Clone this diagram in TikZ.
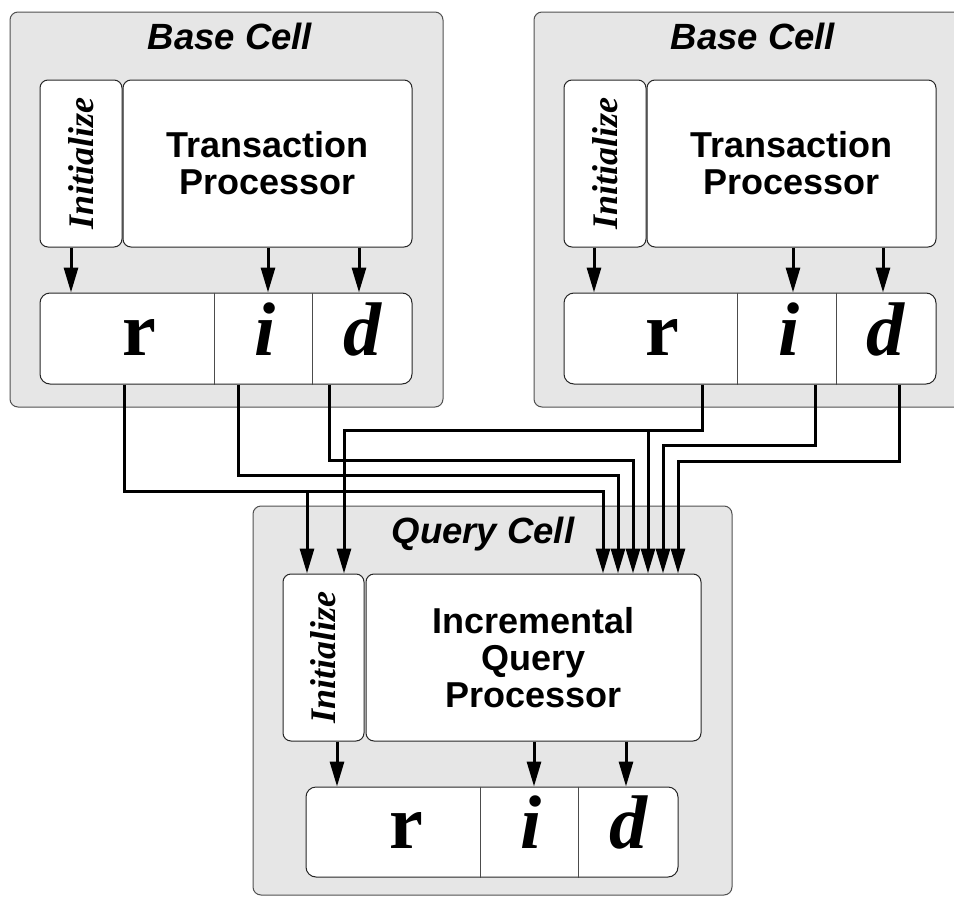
\documentclass[tikz,border=0pt]{standalone}
\usepackage{fontspec}
\newfontfamily\hv{Liberation Sans}
\newfontfamily\tm{Liberation Serif}
\usetikzlibrary{arrows.meta}
\definecolor{cellgray}{HTML}{E6E6E6}
\definecolor{edgegray}{HTML}{505050}
\tikzset{
  cellbox/.style={draw=edgegray, line width=1pt, fill=cellgray, rounded corners=8pt, inner sep=0pt},
  ibox/.style={draw=black!85, line width=1pt, fill=white, rounded corners=8pt, inner sep=0pt},
  ridbox/.style={ibox, rounded corners=10pt, minimum width=372pt},
  divider/.style={draw=black!70, line width=0.9pt},
  celltitle/.style={font=\hv\bfseries\itshape\fontsize{36.5}{36.5}\selectfont, anchor=base, inner sep=0pt},
  proctext/.style={font=\hv\bfseries\fontsize{36}{37}\selectfont, align=center},
  inittext/.style={font=\tm\bfseries\itshape\fontsize{36}{36}\selectfont, rotate=90, inner sep=0pt},
  uprletter/.style={font=\tm\bfseries\fontsize{76}{76}\selectfont, anchor=base, inner sep=0pt},
  itletter/.style={font=\tm\bfseries\itshape\fontsize{76}{76}\selectfont, anchor=base, inner sep=0pt},
  arr/.style={line width=3pt, -{Triangle[length=25pt,width=14pt]}},
}
\begin{document}
\begin{tikzpicture}[x=1pt, y=-1pt]
\useasboundingbox (0,0) rectangle (954,897);
\clip (0,0) rectangle (954,897);

% ---------- cells ----------
\node[cellbox, minimum width=433pt, minimum height=395pt] (Lcell) at (226.5,209.5) {};
\node[cellbox, minimum width=433pt, minimum height=395pt] (Rcell) at (750.5,209.5) {};
\node[cellbox, minimum width=479pt, minimum height=389pt] (Qcell) at (492.5,700.5) {};

\node[celltitle] (Ltitle) at (230,49) {Base Cell};
\node[celltitle] (Rtitle) at (753,49) {Base Cell};
\node[celltitle] (Qtitle) at (483,543) {Query Cell};

% ---------- left base cell ----------
\node[ibox, minimum width=82pt, minimum height=167pt] (Linit) at (81,163.5) {};
\node[inittext] (Linitt) at (Linit.center) {Initialize};
\node[ibox, proctext, minimum width=289pt, minimum height=167pt] (Ltp) at (267.5,163.5) {Transaction\\Processor};
\node[ridbox, minimum height=91pt] (Lrid) at (226,338.5) {};
\draw[divider] ([xshift=175pt]Lrid.north west) -- ([xshift=175pt]Lrid.south west);
\draw[divider] ([xshift=273pt]Lrid.north west) -- ([xshift=273pt]Lrid.south west);
\node[uprletter] (Lr) at (139,355) {r};
\node[itletter] (Li) at (265,355) {i};
\node[itletter] (Ld) at (362,355) {d};

\draw[arr] ([xshift=-10pt]Linit.south) -- ([xshift=-10pt]Linit.south |- Lrid.north);
\draw[arr] ([xshift=0.5pt]Ltp.south) -- ([xshift=0.5pt]Ltp.south |- Lrid.north);
\draw[arr] ([xshift=91.5pt]Ltp.south) -- ([xshift=91.5pt]Ltp.south |- Lrid.north);

% ---------- right base cell ----------
\node[ibox, minimum width=82pt, minimum height=167pt] (Rinit) at (605,163.5) {};
\node[inittext] (Rinitt) at (Rinit.center) {Initialize};
\node[ibox, proctext, minimum width=289pt, minimum height=167pt] (Rtp) at (791.5,163.5) {Transaction\\Processor};
\node[ridbox, minimum height=91pt] (Rrid) at (750,338.5) {};
\draw[divider] ([xshift=174pt]Rrid.north west) -- ([xshift=174pt]Rrid.south west);
\draw[divider] ([xshift=273pt]Rrid.north west) -- ([xshift=273pt]Rrid.south west);
\node[uprletter] (Rr) at (662.5,355) {r};
\node[itletter] (Ri) at (789,355) {i};
\node[itletter] (Rd) at (885,355) {d};

\draw[arr] ([xshift=-11pt]Rinit.south) -- ([xshift=-11pt]Rinit.south |- Rrid.north);
\draw[arr] ([xshift=1.5pt]Rtp.south) -- ([xshift=1.5pt]Rtp.south |- Rrid.north);
\draw[arr] ([xshift=91.5pt]Rtp.south) -- ([xshift=91.5pt]Rtp.south |- Rrid.north);

% ---------- query cell ----------
\node[ibox, minimum width=81pt, minimum height=167pt] (Qinit) at (323.5,657.5) {};
\node[inittext] (Qinitt) at (Qinit.center) {Initialize};
\node[ibox, proctext, minimum width=335pt, minimum height=167pt] (Qproc) at (533.5,657.5) {Incremental\\Query\\Processor};
\node[ridbox, minimum height=90pt] (Qrid) at (492,832) {};
\draw[divider] ([xshift=175pt]Qrid.north west) -- ([xshift=175pt]Qrid.south west);
\draw[divider] ([xshift=273pt]Qrid.north west) -- ([xshift=273pt]Qrid.south west);
\node[uprletter] (Qr) at (406,848) {r};
\node[itletter] (Qi) at (531,848) {i};
\node[itletter] (Qd) at (628,848) {d};

\draw[arr] ([xshift=13.5pt]Qinit.south) -- ([xshift=13.5pt]Qinit.south |- Qrid.north);
\draw[arr] ([xshift=0.5pt]Qproc.south) -- ([xshift=0.5pt]Qproc.south |- Qrid.north);
\draw[arr] ([xshift=92.5pt]Qproc.south) -- ([xshift=92.5pt]Qproc.south |- Qrid.north);

% ---------- feeds from the base cells into the query cell ----------
\coordinate (jL) at (307,491);
\coordinate (jR) at (648,430);

% left base cell
\draw[arr] ([xshift=-102pt]Lrid.south) |- (jL) -| ([xshift=69.5pt]Qproc.north);
\draw[arr] (jL) -- (jL |- Qinit.north);
\draw[arr] ([xshift=12pt]Lrid.south) -- ++(0,91) -| ([xshift=84.5pt]Qproc.north);
\draw[arr] ([xshift=103pt]Lrid.south) -- ++(0,76) -| ([xshift=99.5pt]Qproc.north);

% right base cell
\draw[arr] ([xshift=-48pt]Rrid.south) |- (jR) -| ([xshift=20.5pt]Qinit.north);
\draw[arr] (jR) -- (jR |- Qproc.north);
\draw[arr] ([xshift=65pt]Rrid.south) -- ++(0,61) -| ([xshift=129.5pt]Qproc.north);
\draw[arr] ([xshift=149pt]Rrid.south) -- ++(0,77) -| ([xshift=144.5pt]Qproc.north);
\end{tikzpicture}
\end{document}
